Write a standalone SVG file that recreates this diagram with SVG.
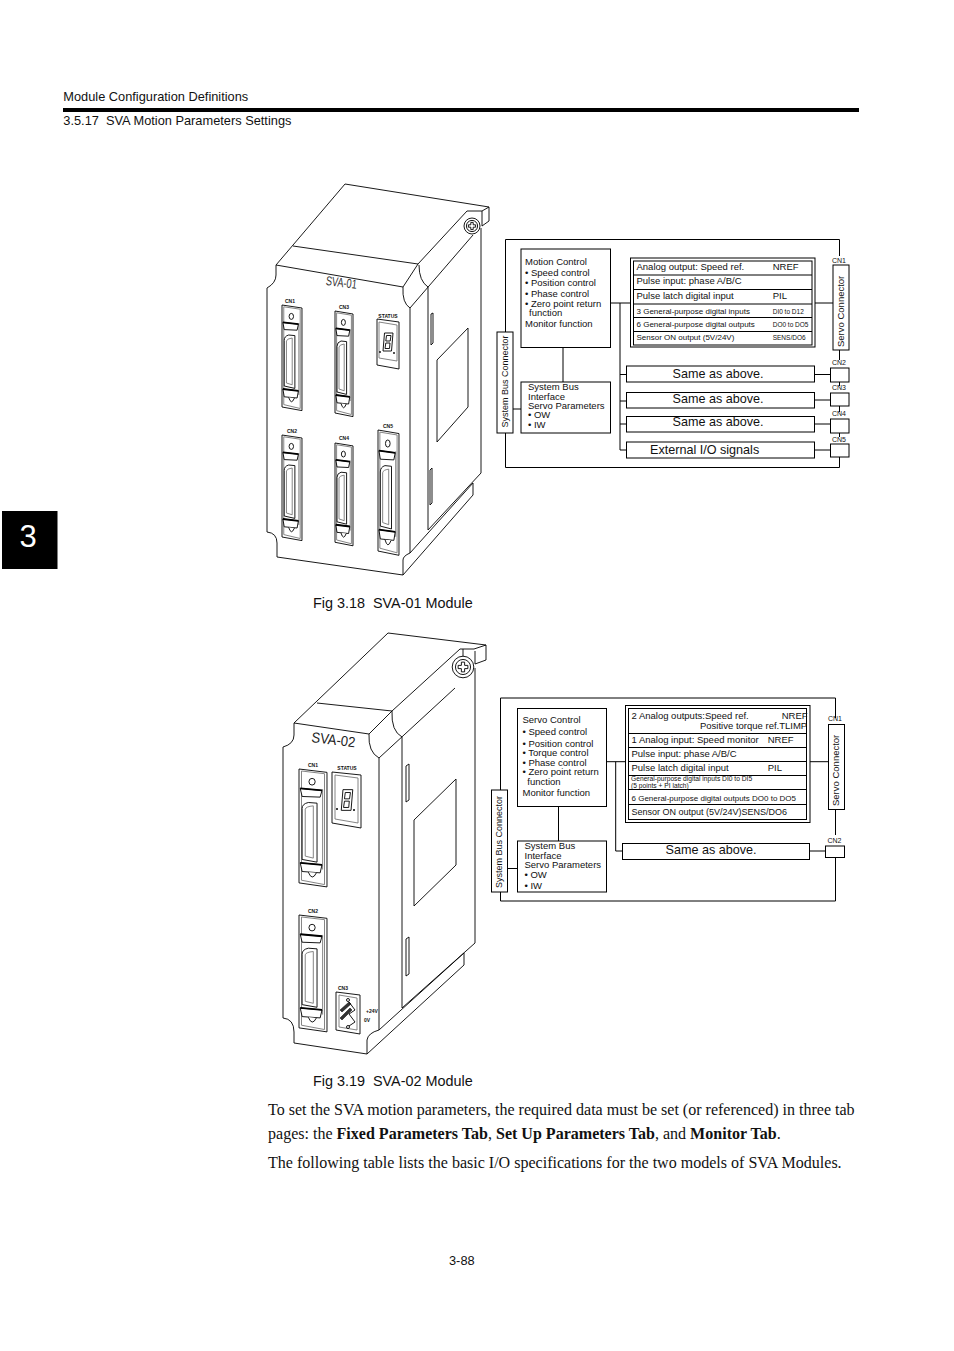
<svg xmlns="http://www.w3.org/2000/svg" xmlns:xlink="http://www.w3.org/1999/xlink" width="954" height="1351" viewBox="0 0 954 1351">
<style>
text{font-family:"Liberation Sans",Arial,sans-serif;fill:#111}
.serif{font-family:"Liberation Serif","Times New Roman",serif;font-size:16.05px}
.serif tspan.b{font-weight:bold}
.hdr{font-size:12.8px}
.cap{font-size:14.4px}
.t95{font-size:9.5px}
.t9{font-size:9px}
.t8{font-size:8px}
.t65{font-size:6.5px}
.t67{font-size:6.7px}
.t7{font-size:7px}
.same{font-size:12.6px}
.sm{font-size:5px;font-weight:bold}
.box{fill:#fff;stroke:#000;stroke-width:1}
.wire{fill:none;stroke:#000;stroke-width:1}
.dr{fill:none;stroke:#000;stroke-width:.9;vector-effect:non-scaling-stroke}
.gr{fill:none;stroke:#777;stroke-width:.9;vector-effect:non-scaling-stroke}
.k{fill:#fff;stroke:#000;stroke-width:.9;vector-effect:non-scaling-stroke}
.th{fill:none;stroke:#000;stroke-width:1.8;vector-effect:non-scaling-stroke}
</style>
<defs>
<g id="conn">
<path class="k" d="M0 0L90 10V352L0 340Z"/>
<path class="gr" d="M8 6L82 14V345L8 332Z"/>
<path class="gr" d="M76 60V300"/>
<circle class="k" cx="42" cy="38" r="10"/>
<path class="k" d="M4 58L74 64L68 84L10 82Z"/>
<path class="th" d="M4 58L74 64"/>
<path class="k" d="M10 118Q10 104 30 100L58 102V278L10 270Z"/>
<path class="gr" d="M20 120Q22 112 46 110V266L20 260Z"/>
<path class="k" d="M4 280L74 286L68 310L10 306Z"/>
<path class="th" d="M4 280L74 286"/>
<path class="k" d="M30 308Q42 336 56 310"/>
</g>
<g id="digit">
<path class="dr" d="M-3.5 -9H5L3.5 9H-5Z"/>
<path class="dr" d="M-1.5 -6.5H3L2.2 -1H-2.2ZM-2.2 1H2L1.5 6.5H-3Z"/>
</g>
<g id="screw">
<circle class="k" r="8"/>
<circle class="dr" r="5.6"/>
<path class="dr" d="M-1.2 -3.6H1.2V-1.2H3.6V1.2H1.2V3.6H-1.2V1.2H-3.6V-1.2H-1.2Z"/>
</g>
</defs>

<g id="page-header">
<text class="hdr" x="63.3" y="101">Module Configuration Definitions</text>
<rect x="63" y="108" width="796" height="4" fill="#000"/>
<text class="hdr" x="63.3" y="125" xml:space="preserve">3.5.17  SVA Motion Parameters Settings</text>
</g>
<g id="chapter-tab">
<rect x="2" y="511" width="55.5" height="58" fill="#000"/>
<text x="28" y="547" text-anchor="middle" style="font-size:31px;fill:#fff">3</text>
</g>

<g id="module-sva-01">
<path class="dr" d="M276 265L345 184L489 207"/>
<path class="dr" d="M276 265V275Q276 283 267 288V532Q277 533 277 543V557L403 575L473 495V483"/>
<path class="dr" d="M276 265L403 287L418 264L293 246"/>
<path class="dr" d="M403 287Q402 303 410 308V553"/>
<path class="dr" d="M403 575V560Q403 556 410 553L473 483"/>
<path class="dr" d="M418 264L467 211"/>
<path class="dr" d="M419 265Q419 281 428 287V530L481 473V228"/>
<path class="dr" d="M410 308L473 235"/>
<path class="dr" d="M467 211H482L489 207V221L482 226V211"/>
<path class="dr" d="M437 442V360L468 328V407Z"/>
<path class="dr" d="M431 314L433 313V343L431 345ZM430 470L432 468V503L430 505Z"/>
<use xlink:href="#screw" href="#screw" transform="translate(472 226)"/>
<text x="325.500" y="285" transform="rotate(7 325.500 285)" textLength="31" lengthAdjust="spacingAndGlyphs" style="font-size:13px;fill:#333">SVA-01</text>
<text class="sm" x="290" y="302.500" text-anchor="middle">CN1</text>
<text class="sm" x="344" y="308.500" text-anchor="middle">CN3</text>
<text class="sm" x="292" y="433" text-anchor="middle">CN2</text>
<text class="sm" x="344" y="440" text-anchor="middle">CN4</text>
<text class="sm" x="388" y="427.500" text-anchor="middle">CN5</text>
<text class="sm" x="388" y="318" text-anchor="middle">STATUS</text>
<use xlink:href="#conn" href="#conn" transform="translate(282 305) scale(.222 .3)"/>
<use xlink:href="#conn" href="#conn" transform="translate(335 311) scale(.2 .3)"/>
<use xlink:href="#conn" href="#conn" transform="translate(282 435) scale(.222 .3)"/>
<use xlink:href="#conn" href="#conn" transform="translate(335 443) scale(.2 .292)"/>
<use xlink:href="#conn" href="#conn" transform="translate(378 430) scale(.233 .356)"/>
<path class="k" d="M377 319L399 322V369L377 365Z"/>
<path class="gr" d="M379 322L397 325V361L379 358Z"/>
<use xlink:href="#digit" href="#digit" transform="translate(388 342)"/>
<circle cx="380" cy="352" r=".9"/><circle cx="394" cy="353" r=".9"/>
</g>

<g id="module-sva-02">
<path class="dr" d="M294 723L388 633L486 645"/>
<path class="dr" d="M294 723V735Q294 744 283 747V1018Q294 1019 294 1032V1043L367 1054L464 965V953"/>
<path class="dr" d="M294 723L369 734L392 711L317 703"/>
<path class="dr" d="M369 734Q368 752 379 758V1030"/>
<path class="dr" d="M367 1054V1040Q368 1033 379 1030L464 953"/>
<path class="dr" d="M392 711L460 649"/>
<path class="dr" d="M392 711Q391 731 402 737V1008L475 943V668"/>
<path class="dr" d="M379 758L455 688"/>
<path class="dr" d="M460 649H474L486 645V660L475 664V651M463 649V657"/>
<path class="dr" d="M414 906V820L456 779V865Z"/>
<path class="dr" d="M406 766L409 764V800L406 802ZM406 939L409 937V974L406 976Z"/>
<use xlink:href="#screw" href="#screw" transform="translate(463 667) scale(1.35)"/>
<text x="311" y="742" transform="rotate(7 311 742)" textLength="44" lengthAdjust="spacingAndGlyphs" style="font-size:14.5px;fill:#222">SVA-02</text>
<text class="sm" x="313" y="767" text-anchor="middle">CN1</text>
<text class="sm" x="347" y="770" text-anchor="middle">STATUS</text>
<text class="sm" x="313" y="913" text-anchor="middle">CN2</text>
<text class="sm" x="343" y="990" text-anchor="middle">CN3</text>
<text class="sm" x="372" y="1013" text-anchor="middle">+24V</text>
<text class="sm" x="367" y="1022" text-anchor="middle">0V</text>
<use xlink:href="#conn" href="#conn" transform="translate(299 769) scale(.311 .335)"/>
<use xlink:href="#conn" href="#conn" transform="translate(299 915) scale(.311 .332)"/>
<path class="k" d="M332 772L361 775V828L332 823Z"/>
<path class="gr" d="M335 775L358 778V823L335 819Z"/>
<use xlink:href="#digit" href="#digit" transform="translate(347 800) scale(1.15)"/>
<circle cx="337" cy="809" r="1"/><circle cx="354" cy="810" r="1"/>
<path class="k" d="M336 992L360 995V1034L336 1030Z"/>
<path class="gr" d="M339 995L357 998V1030L339 1027Z"/>
<path d="M340 1010L349 1002L351 1004L342 1012ZM340 1018L350 1008L352 1010L342 1020Z" fill="#333" stroke="#000" stroke-width=".5"/>
<path class="dr" d="M349 1002L355 1010L349 1014L355 1022L349 1026"/>
<circle class="dr" cx="348" cy="1000" r="1.5"/><circle class="dr" cx="348" cy="1027" r="1.5"/>
</g>

<text id="cap-18" class="cap" x="313" y="608" xml:space="preserve">Fig 3.18  SVA-01 Module</text>
<text id="cap-19" class="cap" x="313" y="1086" xml:space="preserve">Fig 3.19  SVA-02 Module</text>

<g id="connectors-a">
<path class="wire" d="M505.500 332V239.500H839.500V256M505.500 433V467.500H839.500V457"/>
<path class="wire" d="M839.500 350V360M839.500 382V386M839.500 406V412M839.500 433V437"/>
<path class="wire" d="M563 347.500V382M513 409H521M610.500 303H630M815 303H833M620 303V450H626.500M620 374.500H626.500M620 401H626.500M620 424H626.500M814.500 374.500H830.500M814.500 400H830.500M814.500 424H830.500M814.500 450H830.500"/>
</g>
<g id="sva01-sysbus"><rect class="box" x="497" y="332" width="16" height="101"/><text class="t9" transform="translate(507.500 427.500) rotate(-90)">System Bus Connector</text></g>
<g id="sva01-motion"><rect class="box" x="521" y="249" width="89.500" height="98.500"/>
<text class="t95" x="525" y="265">Motion Control</text>
<text class="t95" x="525" y="275.700">• Speed control</text>
<text class="t95" x="525" y="286.300">• Position control</text>
<text class="t95" x="525" y="297">• Phase control</text>
<text class="t95" x="525" y="307">• Zero point return</text>
<text class="t95" x="529" y="316">function</text>
<text class="t95" x="525" y="327">Monitor function</text></g>
<g id="sva01-iface"><rect class="box" x="521" y="382" width="89.500" height="51"/>
<text class="t95" x="528" y="389.500">System Bus</text>
<text class="t95" x="528" y="399.700">Interface</text>
<text class="t95" x="528" y="409">Servo Parameters</text>
<text class="t95" x="528" y="418.300">• OW</text>
<text class="t95" x="528" y="428">• IW</text></g>
<g id="sva01-table"><rect class="box" x="630.500" y="258" width="184.500" height="89"/>
<rect class="box" x="633.500" y="261" width="178.500" height="84"/>
<path class="wire" d="M633.500 275H812M633.500 289.500H812M633.500 304H812M633.500 317.500H812M633.500 331.500H812"/>
<text class="t95" x="636.500" y="270">Analog output: Speed ref.</text><text class="t95" x="772.700" y="270">NREF</text>
<text class="t95" x="636.500" y="284.300">Pulse input: phase A/B/C</text>
<text class="t95" x="636.500" y="298.700">Pulse latch digital input</text><text class="t95" x="772.700" y="298.700">PIL</text>
<text class="t8" x="636.500" y="314">3 General-purpose digital inputs</text><text class="t65" x="772.700" y="314">DI0 to D12</text>
<text class="t8" x="636.500" y="327">6 General-purpose digital outputs</text><text class="t65" x="772.700" y="327">DO0 to DO5</text>
<text class="t8" x="636.500" y="340">Sensor ON output (5V/24V)</text><text class="t65" x="772.700" y="340">SENS/DO6</text></g>
<g id="sva01-same1"><rect class="box" x="626.500" y="366" width="188" height="16"/><text class="same" x="672.500" y="378">Same as above.</text></g>
<g id="sva01-same2"><rect class="box" x="626.500" y="392.500" width="188" height="15.500"/><text class="same" x="672.500" y="402.800">Same as above.</text></g>
<g id="sva01-same3"><rect class="box" x="626.500" y="416.500" width="188" height="15.500"/><text class="same" x="672.500" y="426.300">Same as above.</text></g>
<g id="sva01-ext"><rect class="box" x="626.500" y="442" width="188" height="16"/><text class="same" x="650" y="454">External I/O signals</text></g>
<g id="sva01-servo"><rect class="box" x="833" y="265" width="16" height="85"/><text class="t95" transform="translate(843.500 347) rotate(-90)">Servo Connector</text></g>
<g id="sva01-cn1"><text class="t7" x="832" y="262.500">CN1</text></g>
<g id="sva01-cn2"><rect class="box" x="830.500" y="368" width="18.500" height="14"/><text class="t7" x="832" y="364.500">CN2</text></g>
<g id="sva01-cn3"><rect class="box" x="830.500" y="393" width="18.500" height="13"/><text class="t7" x="832" y="390">CN3</text></g>
<g id="sva01-cn4"><rect class="box" x="830.500" y="419" width="18.500" height="14"/><text class="t7" x="832" y="416">CN4</text></g>
<g id="sva01-cn5"><rect class="box" x="830.500" y="444" width="18.500" height="13"/><text class="t7" x="832" y="441.500">CN5</text></g>

<g id="connectors-b">
<path class="wire" d="M500.500 790V698H835.500V718M500.500 892V901H835.500V857M835.500 809V835"/>
<path class="wire" d="M558.500 807V841M507.500 868.500H517.500M606.500 761.700H625.500M810 761.700H828.500M615.700 761.700V851H622.500M809.500 851H825.500"/>
</g>
<g id="sva02-sysbus"><rect class="box" x="491.500" y="790" width="16" height="102"/><text class="t9" transform="translate(502 888) rotate(-90)">System Bus Connector</text></g>
<g id="sva02-servo-ctl"><rect class="box" x="517.500" y="708.500" width="89" height="98"/>
<text class="t95" x="522.500" y="723.300">Servo Control</text>
<text class="t95" x="522.500" y="734.500">• Speed control</text>
<text class="t95" x="522.500" y="746.700">• Position control</text>
<text class="t95" x="522.500" y="755.700">• Torque control</text>
<text class="t95" x="522.500" y="765.500">• Phase control</text>
<text class="t95" x="522.500" y="775">• Zero point return</text>
<text class="t95" x="527.300" y="784.500">function</text>
<text class="t95" x="522.500" y="795.500">Monitor function</text></g>
<g id="sva02-iface"><rect class="box" x="517.500" y="841" width="89" height="51"/>
<text class="t95" x="524.500" y="849">System Bus</text>
<text class="t95" x="524.500" y="859">Interface</text>
<text class="t95" x="524.500" y="868">Servo Parameters</text>
<text class="t95" x="524.500" y="877.500">• OW</text>
<text class="t95" x="524.500" y="888.500">• IW</text></g>
<g id="sva02-table"><rect class="box" x="625.500" y="705.500" width="184.500" height="117"/>
<rect class="box" x="628.500" y="708.500" width="178" height="111"/>
<path class="wire" d="M628.500 733.500H806.500M628.500 747.500H806.500M628.500 761.500H806.500M628.500 775.500H806.500M628.500 789.500H806.500M628.500 804.500H806.500"/>
<text class="t95" x="631.500" y="719">2 Analog outputs:Speed ref.</text><text class="t95" x="781.700" y="719">NREF</text>
<text class="t95" x="700" y="728.700">Positive torque ref.TLIMP</text>
<text class="t95" x="631.500" y="742.700">1 Analog input: Speed monitor</text><text class="t95" x="767.700" y="742.700">NREF</text>
<text class="t95" x="631.500" y="756.700">Pulse input: phase A/B/C</text>
<text class="t95" x="631.500" y="770.500">Pulse latch digital input</text><text class="t95" x="767.700" y="770.500">PIL</text>
<text class="t67" x="631" y="780.500">General-purpose digital inputs DI0 to DI5</text>
<text class="t67" x="631" y="787.800">(5 points + PI latch)</text>
<text class="t8" x="631.500" y="801">6 General-purpose digital outputs DO0 to DO5</text>
<text class="t9" x="631.500" y="814.500">Sensor ON output (5V/24V)SENS/DO6</text></g>
<g id="sva02-same"><rect class="box" x="622.500" y="843.500" width="187" height="16"/><text class="same" x="665.500" y="854">Same as above.</text></g>
<g id="sva02-servo"><rect class="box" x="828.500" y="724.500" width="16" height="85"/><text class="t95" transform="translate(839 806) rotate(-90)">Servo Connector</text></g>
<g id="sva02-cn1"><text class="t7" x="828" y="721">CN1</text></g>
<g id="sva02-cn2"><rect class="box" x="825.500" y="846" width="19" height="11.500"/><text class="t7" x="827.500" y="842.500">CN2</text></g>

<g id="body-text">
<text class="serif" x="268" y="1115">To set the SVA motion parameters, the required data must be set (or referenced) in three tab</text>
<text class="serif" x="268" y="1139">pages: the <tspan class="b">Fixed Parameters Tab</tspan>, <tspan class="b">Set Up Parameters Tab</tspan>, and <tspan class="b">Monitor Tab</tspan>.</text>
<text class="serif" x="268" y="1168">The following table lists the basic I/O specifications for the two models of SVA Modules.</text>
<text class="hdr" x="449" y="1265">3-88</text>
</g>
</svg>
